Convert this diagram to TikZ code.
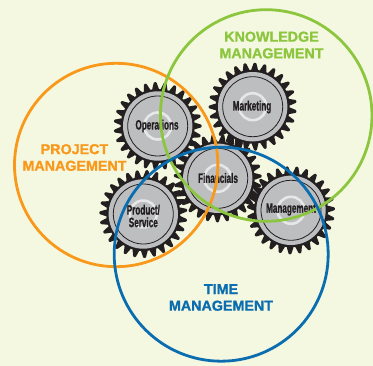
\documentclass[tikz,border=0pt]{standalone}
\usepackage{fontspec}
\setmainfont{Liberation Sans}
\newfontfamily\condfont[FakeStretch=0.6,FakeBold=1.1]{Liberation Sans Bold}
\newfontfamily\headfont[FakeBold=1.2]{Liberation Sans Bold}
\definecolor{bgc}{HTML}{F5F8E0}
\definecolor{orangec}{HTML}{F9991C}
\definecolor{greenc}{HTML}{8CC63F}
\definecolor{bluec}{HTML}{0A6DB0}
\definecolor{grayc}{HTML}{BCBEC0}
\definecolor{darkc}{HTML}{231F20}
\definecolor{ringc}{HTML}{E6E7E8}
\newcommand{\mygear}[3]{%
  \begin{scope}[shift={(#1,#2)},rotate=#3]
    \fill[darkc] (0,0) circle[radius=37];
    \foreach \a in {0,13.333,...,350}{
      \fill[darkc,rounded corners=0.8pt] (\a-5.6:36.5) -- (\a-1.6:44) -- (\a+1.6:44) -- (\a+5.6:36.5) -- cycle;
    }
    \fill[grayc] (0,0) circle[radius=34.7];
    \draw[darkc,line width=0.8pt] (0,0) circle[radius=30];
    \draw[ringc,line width=2.6pt] (0,0) circle[radius=13.5];
  \end{scope}}
\tikzset{
  gearlabel/.style={text=darkc,font=\condfont\fontsize{13.6}{12.5}\selectfont,align=center,inner sep=0pt},
  bigorange/.style={text=orangec,font=\headfont\fontsize{14.3}{16.6}\selectfont,align=center,inner sep=0pt},
  biggreen/.style={text=greenc,font=\headfont\fontsize{14.3}{16.6}\selectfont,align=center,inner sep=0pt},
  bigblue/.style={text=bluec,font=\headfont\fontsize{14.3}{16.6}\selectfont,align=center,inner sep=0pt},
  setcircle/.style={line width=2.8pt}
}
\begin{document}
\begin{tikzpicture}[x=1pt,y=-1pt]
\useasboundingbox (0,0) rectangle (373,366);
\fill[bgc] (0,0) rectangle (373,366);
\mygear{157.7}{126}{0}
\mygear{143.3}{214}{5}
\mygear{217.7}{178.3}{3}
\mygear{252.7}{106.7}{7}
\mygear{291}{210.3}{2}
\node[gearlabel] (ops) at (157,126) {Operations};
\node[gearlabel] (prod) at (143.3,216) {Product/\\Service};
\node[gearlabel] (fin) at (218,178) {Financials};
\node[gearlabel] (mkt) at (252,107) {Marketing};
\node[gearlabel] (mgt) at (291,209.5) {Management};
\node[bigorange] (pm) at (74.5,157.5) {PROJECT\\MANAGEMENT};
\node[biggreen] (km) at (271.5,45) {KNOWLEDGE\\MANAGEMENT};
\node[bigblue] (tm) at (221,297.5) {TIME\\MANAGEMENT};
\draw[setcircle,orangec] (116.2,165) circle[radius=101.7];
\draw[setcircle,greenc] (266.2,115.5) circle[radius=105.8];
\draw[setcircle,bluec] (221.2,254.2) circle[radius=107];
\end{tikzpicture}
\end{document}
